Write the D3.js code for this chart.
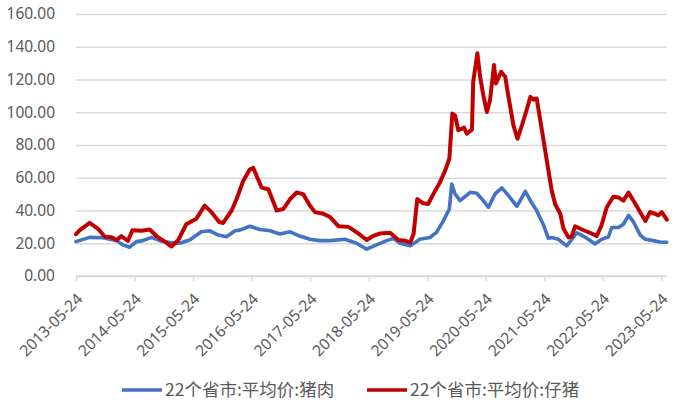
<!DOCTYPE html>
<html>
<head>
<meta charset="utf-8">
<script src="https://cdn.jsdelivr.net/npm/d3@7"></script>
<style>
  body { margin: 0; background: #fff; }
  svg { display: block; }
</style>
</head>
<body>
<div id="chart"></div>
<script>
// chart values
var porkDates = ["2013-05-24","2013-08-17","2013-11-10","2014-02-02","2014-03-13","2014-04-24","2014-06-05","2014-07-16","2014-09-07","2014-10-29","2014-12-30","2015-03-02","2015-05-03","2015-07-15","2015-09-06","2015-10-28","2015-12-19","2016-02-10","2016-03-11","2016-05-12","2016-07-14","2016-09-16","2016-11-17","2017-01-19","2017-03-20","2017-05-22","2017-07-23","2017-09-25","2017-12-27","2018-03-09","2018-05-11","2018-07-12","2018-09-13","2018-10-24","2018-12-05","2019-02-07","2019-04-08","2019-06-10","2019-07-21","2019-09-02","2019-10-09","2019-10-24","2019-11-14","2019-12-15","2020-02-16","2020-03-28","2020-05-08","2020-06-09","2020-07-20","2020-09-01","2020-10-12","2020-12-04","2021-01-25","2021-02-26","2021-04-06","2021-05-17","2021-06-18","2021-07-09","2021-08-19","2021-10-11","2021-12-13","2022-02-04","2022-04-05","2022-05-16","2022-06-28","2022-07-18","2022-08-29","2022-09-29","2022-10-31","2022-12-01","2023-01-12","2023-02-13","2023-04-04","2023-05-16","2023-06-27"];
var porkPrices = [21,23.6,23.4,21.6,19,17.6,21,21.6,23.6,21.6,20.4,20,22,27,27.6,25,24,27.6,28,30.4,28.4,27.6,25.6,27,24.4,22.4,21.6,21.6,22.4,20,16.4,19,21.6,23,20,18.4,22.5,23.5,26.6,33.7,40.9,56.2,50.1,46,51.1,50.5,46,41.9,50.1,53.8,49.1,42.5,51.7,46,39.9,31.5,23,23.5,22.4,18.4,26.4,23.6,19.6,22.4,24,29.6,29.6,31.6,37,33,25,22.4,21.6,20.8,20.6];

var pigletDates = ["2013-05-24","2013-06-17","2013-08-17","2013-10-07","2013-11-20","2014-01-01","2014-02-02","2014-03-03","2014-04-13","2014-05-12","2014-07-06","2014-08-27","2014-10-08","2014-11-29","2015-01-10","2015-02-21","2015-04-12","2015-06-14","2015-08-05","2015-09-16","2015-11-03","2015-11-28","2016-01-20","2016-02-20","2016-04-01","2016-05-12","2016-06-03","2016-06-24","2016-07-25","2016-09-05","2016-10-27","2016-12-08","2017-01-19","2017-03-01","2017-04-10","2017-05-22","2017-06-23","2017-08-14","2017-09-25","2017-11-16","2018-01-18","2018-03-20","2018-05-11","2018-06-12","2018-08-03","2018-10-04","2018-11-26","2019-01-07","2019-02-07","2019-02-28","2019-03-23","2019-04-29","2019-05-30","2019-07-01","2019-08-12","2019-09-13","2019-10-09","2019-10-28","2019-11-14","2019-12-04","2020-01-09","2020-01-26","2020-02-27","2020-03-06","2020-04-01","2020-04-18","2020-05-08","2020-05-30","2020-06-19","2020-07-14","2020-07-26","2020-08-27","2020-09-22","2020-10-12","2020-11-12","2020-12-07","2021-01-04","2021-02-05","2021-02-26","2021-03-16","2021-04-06","2021-05-07","2021-06-08","2021-07-09","2021-07-30","2021-08-31","2021-09-20","2021-10-21","2021-11-11","2021-12-02","2022-01-13","2022-03-04","2022-04-15","2022-05-16","2022-06-17","2022-07-28","2022-08-29","2022-09-29","2022-10-31","2022-12-01","2023-01-12","2023-02-13","2023-03-14","2023-04-15","2023-05-05","2023-05-26","2023-06-27"];
var pigletPrices = [25.5,28,32.5,29,24,23.6,22,24.4,21.5,28,27.6,28.4,24.4,21,18,22,31.6,35,43,39,33,32.4,40,47,58,65,66,61,54,53,40,41,47,51,50,43,39,38,36,30.4,30,26,22,24,26,26.4,22,21.5,20.5,25.6,47,44.4,44,50,57.3,64.4,71.6,99.2,98,89,90.6,86.9,89.4,118.6,136,121.7,110.4,100.2,107.4,128.8,117.6,124.7,121.7,109.4,92,83.8,92,102.3,109.4,107.8,108.4,90,70.6,52,44,38,29,23.6,24.4,30.4,28.4,26.4,24.4,31,42,48.4,48,46,51,46,39,33.6,39,38,37,39,34.4];

var xTickLabels = ["2013-05-24","2014-05-24","2015-05-24","2016-05-24","2017-05-24","2018-05-24","2019-05-24","2020-05-24","2021-05-24","2022-05-24","2023-05-24"];
var yTicks = [0,20,40,60,80,100,120,140,160];
var seriesNames = ["22个省市:平均价:猪肉","22个省市:平均价:仔猪"];

// layout
var svgWidth = 689;
var svgHeight = 400;
var margin = { top: 14, right: 22, bottom: 124, left: 76 };
var width = svgWidth - margin.left - margin.right;
var height = svgHeight - margin.top - margin.bottom;

var parse = d3.timeParse("%Y-%m-%d");
var colors = ["#4472C4", "#C00000"];
var strokes = [3.6, 4];

var pork = porkDates.map((d, i) => ({ date: parse(d), value: porkPrices[i] }));
var piglet = pigletDates.map((d, i) => ({ date: parse(d), value: pigletPrices[i] }));

var svg = d3.select("#chart").append("svg")
  .attr("width", svgWidth)
  .attr("height", svgHeight);

svg.append("rect").attr("width", svgWidth).attr("height", svgHeight).attr("fill", "#fff");

var g = svg.append("g")
  .attr("transform", `translate(${margin.left}, ${margin.top})`);

var x = d3.scaleTime()
  .domain([parse("2013-05-24"), parse("2023-06-28")])
  .range([0, width]);

var y = d3.scaleLinear()
  .domain([0, 160])
  .range([height, 0]);

// gridlines + y labels
var yAxis = d3.axisLeft(y)
  .tickValues(yTicks)
  .tickSize(-width)
  .tickFormat(d3.format(".2f"))
  .tickPadding(21);

var yG = g.append("g").call(yAxis);
yG.select(".domain").remove();
yG.selectAll(".tick line")
  .attr("stroke", "#d9d9d9")
  .attr("stroke-width", 1.3);
yG.selectAll(".tick text")
  .attr("fill", "#595959")
  .style("font-family", "'Noto Sans', sans-serif")
  .style("font-size", "15.5px");

// x axis
var xAxis = d3.axisBottom(x)
  .tickValues(xTickLabels.map(parse))
  .tickSize(5)
  .tickFormat(d3.timeFormat("%Y-%m-%d"));

var xG = g.append("g")
  .attr("transform", `translate(0, ${height})`)
  .call(xAxis);
xG.select(".domain")
  .attr("stroke", "#d9d9d9")
  .attr("stroke-width", 1.3)
  .attr("d", `M0,0H${width}`);
xG.selectAll(".tick line").attr("stroke", "#d9d9d9").attr("stroke-width", 1.3);
xG.selectAll(".tick text")
  .attr("fill", "#595959")
  .style("font-family", "'Noto Sans', sans-serif")
  .style("font-size", "15.5px")
  .attr("text-anchor", "end")
  .attr("dy", "0")
  .attr("y", 0)
  .attr("transform", "translate(7,24) rotate(-45)");

// lines
var line = d3.line()
  .x(d => x(d.date))
  .y(d => y(d.value));

[pork, piglet].forEach((data, i) => {
  g.append("path")
    .datum(data)
    .attr("fill", "none")
    .attr("stroke", colors[i])
    .attr("stroke-width", strokes[i])
    .attr("stroke-linejoin", "round")
    .attr("stroke-linecap", "round")
    .attr("d", line);
});

// legend
var legendX = [122, 367];
var legend = svg.append("g").attr("transform", "translate(0, 390)");
seriesNames.forEach((name, i) => {
  legend.append("line")
    .attr("x1", legendX[i]).attr("x2", legendX[i] + 40)
    .attr("y1", 0).attr("y2", 0)
    .attr("stroke", colors[i])
    .attr("stroke-width", 3.5);
  legend.append("text")
    .attr("x", legendX[i] + 43)
    .attr("y", 0)
    .attr("dy", "0.35em")
    .attr("fill", "#595959")
    .style("font-family", "'Noto Sans CJK SC', sans-serif")
    .style("font-size", "17.5px")
    .text(name);
});
</script>
</body>
</html>
